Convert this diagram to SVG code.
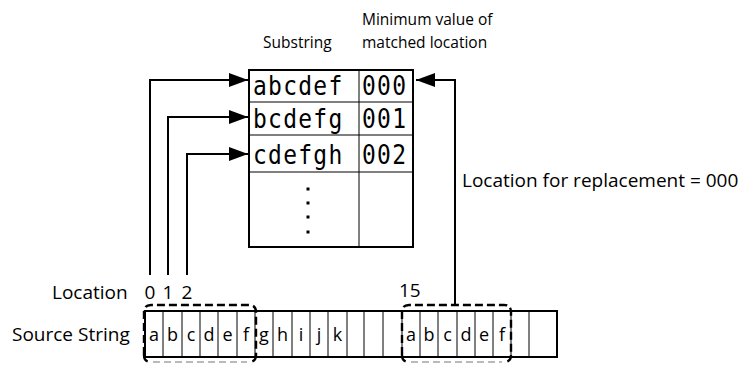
<svg xmlns="http://www.w3.org/2000/svg" width="748" height="365" viewBox="0 0 748 365">
  <style>
    .lbl { font-family: "Open Sans", "Liberation Sans", sans-serif; font-size: 19px; fill: #000; }
    .hdr { font-family: "Open Sans", "Liberation Sans", sans-serif; font-size: 15.5px; fill: #000; }
    .cell { font-family: "Open Sans", "Liberation Sans", sans-serif; font-size: 18px; fill: #000; text-anchor: middle; }
    .mono { font-family: "DejaVu Sans Mono", "Liberation Mono", monospace; font-size: 27px; letter-spacing: 1.5px; fill: #000; }
    .box { fill: #fff; stroke: #000; stroke-width: 2; }
    .grid { stroke: #000; stroke-width: 1; fill: none; }
    .wire { stroke: #000; stroke-width: 2; fill: none; }
    .bracket { stroke: #000; stroke-width: 2.4; fill: none; stroke-dasharray: 8 4; }
    .bracket-low { stroke: #777; stroke-width: 1.2; fill: none; stroke-dasharray: 7 4; }
  </style>
  <defs>
    <marker id="head" markerUnits="userSpaceOnUse" markerWidth="20" markerHeight="16" refX="19" refY="8" orient="auto">
      <path d="M0,1 L19,8 L0,15 z" fill="#000"/>
    </marker>
  </defs>
  <rect width="748" height="365" fill="#fff"/>

  <!-- table header -->
  <g id="headers">
    <text class="hdr" x="263" y="48">Substring</text>
    <text class="hdr" x="362" y="25">Minimum value of</text>
    <text class="hdr" x="362" y="48">matched location</text>
  </g>

  <!-- substring table -->
  <g id="table">
    <rect class="box" x="249" y="70" width="164" height="177"/>
    <line class="grid" x1="359" y1="70" x2="359" y2="247"/>
    <line class="grid" x1="249" y1="102" x2="413" y2="102"/>
    <line class="grid" x1="249" y1="135" x2="413" y2="135"/>
    <line class="grid" x1="249" y1="172" x2="413" y2="172"/>
    <text class="mono" transform="translate(253,95) scale(0.85,1)">abcdef</text>
    <text class="mono" transform="translate(362,95) scale(0.85,1)">000</text>
    <text class="mono" transform="translate(253,128) scale(0.85,1)">bcdefg</text>
    <text class="mono" transform="translate(362,128) scale(0.85,1)">001</text>
    <text class="mono" transform="translate(253,164) scale(0.85,1)">cdefgh</text>
    <text class="mono" transform="translate(362,164) scale(0.85,1)">002</text>
    <rect x="306.5" y="187.5" width="3" height="3"/>
    <rect x="306.5" y="201.5" width="3" height="3"/>
    <rect x="306.5" y="215.5" width="3" height="3"/>
    <rect x="306.5" y="230.5" width="3" height="3"/>
  </g>

  <!-- labels -->
  <g id="labels">
    <text class="lbl" x="52" y="299">Location</text>
    <text class="lbl" x="12" y="341">Source String</text>
    <text class="lbl" x="462" y="187">Location for replacement = 000</text>
    <text class="lbl" x="150" y="299" text-anchor="middle">0</text>
    <text class="lbl" x="168" y="299" text-anchor="middle">1</text>
    <text class="lbl" x="187" y="299" text-anchor="middle">2</text>
    <text class="lbl" x="399" y="297">15</text>
  </g>

  <!-- source string cells -->
  <g id="source">
    <rect class="box" x="145" y="311" width="412" height="46"/>
    <path class="grid" d="M163,311V357 M182,311V357 M200,311V357 M218,311V357 M237,311V357 M255,311V357 M273,311V357 M292,311V357 M310,311V357 M328,311V357 M347,311V357 M364,311V357 M383,311V357 M402,311V357 M420,311V357 M438,311V357 M457,311V357 M475,311V357 M493,311V357 M511,311V357 M529,311V357"/>
    <text class="cell" x="154" y="341">a</text>
    <text class="cell" x="172.5" y="341">b</text>
    <text class="cell" x="191" y="341">c</text>
    <text class="cell" x="209" y="341">d</text>
    <text class="cell" x="227.5" y="341">e</text>
    <text class="cell" x="246" y="341">f</text>
    <text class="cell" x="264" y="341">g</text>
    <text class="cell" x="282.5" y="341">h</text>
    <text class="cell" x="301" y="341">i</text>
    <text class="cell" x="319" y="341">j</text>
    <text class="cell" x="337.5" y="341">k</text>
    <text class="cell" x="411" y="341">a</text>
    <text class="cell" x="429" y="341">b</text>
    <text class="cell" x="447.5" y="341">c</text>
    <text class="cell" x="466" y="341">d</text>
    <text class="cell" x="484" y="341">e</text>
    <text class="cell" x="502" y="341">f</text>
  </g>

  <!-- dashed group outlines -->
  <g id="groups">
    <path class="bracket" d="M144,355 V312 Q144,305 151,305 H249 Q256,305 256,312 V355"/>
    <path class="bracket" d="M144,355 Q144,362 151,362 M256,355 Q256,362 249,362"/>
    <line class="bracket-low" x1="153" y1="362" x2="247" y2="362"/>
    <path class="bracket" d="M402,355 V312 Q402,305 409,305 H504 Q511,305 511,312 V355"/>
    <path class="bracket" d="M402,355 Q402,362 409,362 M511,355 Q511,362 504,362"/>
    <line class="bracket-low" x1="411" y1="362" x2="502" y2="362"/>
  </g>

  <!-- connectors -->
  <g id="connectors">
    <path class="wire" d="M150,275 V80 H248" marker-end="url(#head)"/>
    <path class="wire" d="M168,275 V117 H248" marker-end="url(#head)"/>
    <path class="wire" d="M187,275 V154 H248" marker-end="url(#head)"/>
    <path class="wire" d="M455,305 V80 H416" marker-end="url(#head)"/>
  </g>
</svg>
